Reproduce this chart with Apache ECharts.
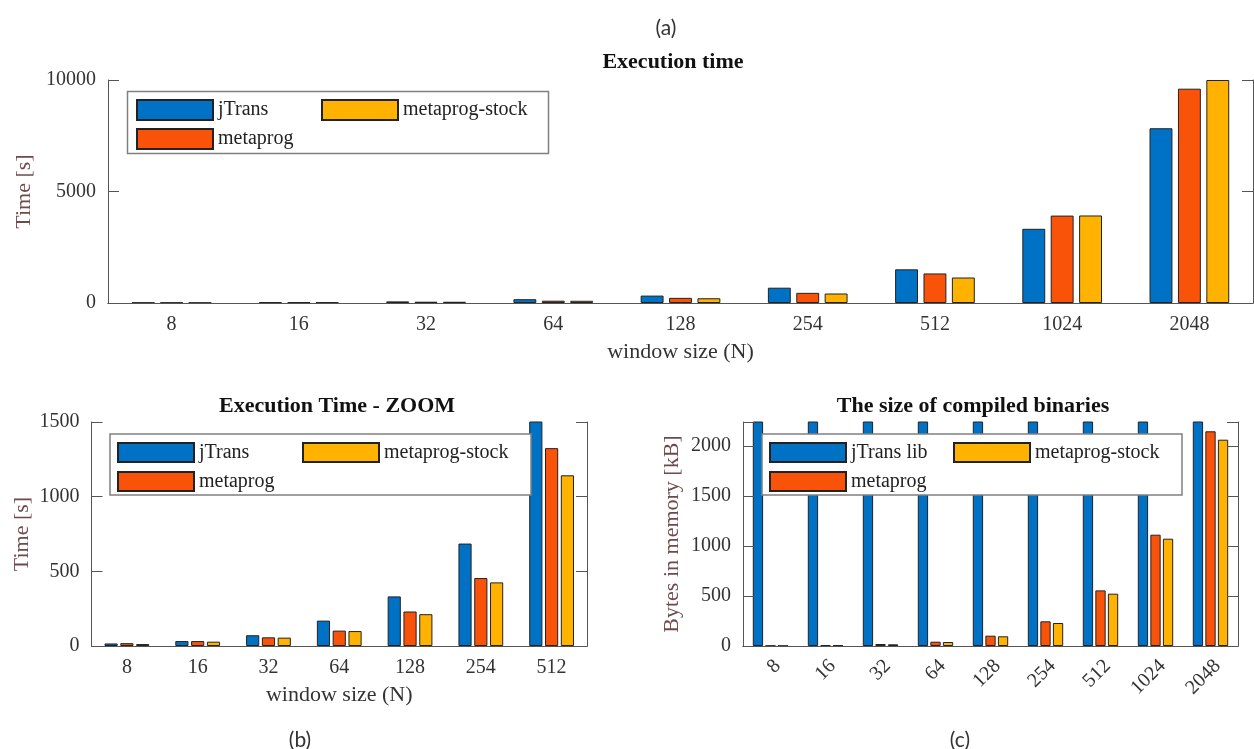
<!DOCTYPE html>
<html>
<head>
<meta charset="utf-8">
<script src="https://cdn.jsdelivr.net/npm/echarts@6/dist/echarts.min.js"></script>
<style>
  html, body { margin: 0; padding: 0; background: #fff; }
  #main { width: 1254px; height: 749px; }
</style>
</head>
<body>
<div id="main"></div>
<script>
// window sizes (x categories)
var windowSizes = ['8', '16', '32', '64', '128', '254', '512', '1024', '2048'];
var zoomCount = 7; // (b) shows only the first 7 sizes

// execution time [s]
var timeJTrans = [17, 33, 72, 170, 332, 686, 1510, 3327, 7837];
var timeMetaprog = [19, 33, 58, 103, 231, 455, 1325, 3920, 9610];
var timeStock = [13, 29, 56, 100, 213, 426, 1143, 3925, 10000];

// size of compiled binaries [kB]
var sizeJTransLib = [2500, 2500, 2500, 2500, 2500, 2500, 2500, 2500, 2500];
var sizeMetaprog = [3, 8, 20, 43, 103, 247, 556, 1113, 2147];
var sizeStock = [2, 7, 17, 40, 97, 230, 523, 1073, 2063];

var myChart = echarts.init(document.getElementById('main'));

var serif = 'Liberation Serif';
var axisColor = '#555';
var labelColor = '#333';
var yNameColor = '#6e4b4b';
var colors = ['#0072c6', '#f9530a', '#ffb300'];

function bottomAxis(g, cats, name, extra) {
    var ax = {
        type: 'category', gridIndex: g, data: cats, position: 'bottom', z: 5,
        axisLine: { lineStyle: { color: axisColor } },
        axisTick: { inside: true, alignWithLabel: true, length: 10, lineStyle: { color: axisColor } },
        axisLabel: { interval: 0, margin: 12, fontFamily: serif, fontSize: 20, color: labelColor },
        name: name, nameLocation: 'middle', nameGap: 38,
        nameTextStyle: { fontFamily: serif, fontSize: 22, color: '#333' }
    };
    if (extra) ax.axisLabel = Object.assign(ax.axisLabel, extra);
    return ax;
}
function topAxis(g, cats) {
    return {
        type: 'category', gridIndex: g, data: cats, position: 'top', z: 5,
        axisLine: { lineStyle: { color: axisColor } },
        axisTick: { inside: true, alignWithLabel: true, length: 10, lineStyle: { color: axisColor } },
        axisLabel: { show: false }
    };
}
function leftAxis(g, max, interval, name, gap) {
    return {
        type: 'value', gridIndex: g, min: 0, max: max, interval: interval, position: 'left', z: 5,
        axisLine: { show: true, lineStyle: { color: axisColor } },
        axisTick: { show: true, inside: true, length: 11, lineStyle: { color: axisColor } },
        splitLine: { show: false },
        axisLabel: {
            margin: 12, fontFamily: serif, fontSize: 20, color: labelColor,
            formatter: function (v) { return v % interval === 0 ? String(v) : ''; }
        },
        name: name, nameLocation: 'middle', nameGap: gap,
        nameTextStyle: { fontFamily: serif, fontSize: 22, color: yNameColor }
    };
}
function rightAxis(g, max, interval) {
    return {
        type: 'value', gridIndex: g, min: 0, max: max, interval: interval, position: 'right', z: 5,
        axisLine: { show: true, lineStyle: { color: axisColor } },
        axisTick: { show: true, inside: true, length: 11, lineStyle: { color: axisColor } },
        splitLine: { show: false },
        axisLabel: { show: false }
    };
}
function bars(name, data, axis, color, width, gap) {
    return {
        name: name, type: 'bar', xAxisIndex: axis, yAxisIndex: axis, data: data,
        barWidth: width, barGap: gap, clip: true,
        itemStyle: { color: color, borderColor: '#222', borderWidth: 1 }
    };
}
function legend(names, left, top, h, gap) {
    return {
        data: names, orient: 'vertical', left: left, top: top, padding: 0,
        itemWidth: 76, itemHeight: h, itemGap: gap, icon: 'rect', z: 10,
        textStyle: { fontFamily: serif, fontSize: 20, color: '#222' }
    };
}
function box(x, y, w, h) {
    return {
        type: 'rect', z: 6, shape: { x: x, y: y, width: w, height: h },
        style: { fill: '#fff', stroke: '#808080', lineWidth: 1.5 }
    };
}
function caption(text, x, y) {
    return {
        type: 'text', x: x, y: y, z: 10,
        style: { text: text, fontFamily: 'Lato', fontSize: 21, fill: '#333', align: 'center', verticalAlign: 'middle' }
    };
}
function titleOf(text, left, top) {
    return {
        text: text, left: left, top: top, textAlign: 'center', padding: 0,
        textStyle: { fontFamily: serif, fontWeight: 'bold', fontSize: 22, color: '#111' }
    };
}

var zoomCats = windowSizes.slice(0, zoomCount);

var option = {
    animation: false,
    backgroundColor: '#fff',
    title: [
        titleOf('Execution time', 673, 51),
        titleOf('Execution Time - ZOOM', 337, 395),
        titleOf('The size of compiled binaries', 973, 395)
    ],
    grid: [
        { left: 108, right: 1, top: 80, bottom: 446 },
        { left: 91.5, right: 667, top: 422, bottom: 103 },
        { left: 743, right: 16, top: 422, bottom: 103 }
    ],
    xAxis: [
        bottomAxis(0, windowSizes, 'window size (N)'),
        topAxis(0, windowSizes),
        bottomAxis(1, zoomCats, 'window size (N)'),
        topAxis(1, zoomCats),
        bottomAxis(2, windowSizes, '', { rotate: 45, margin: 10, align: 'right', verticalAlign: 'top' }),
        topAxis(2, windowSizes)
    ],
    yAxis: [
        leftAxis(0, 10000, 5000, 'Time [s]', 68),
        rightAxis(0, 10000, 5000),
        leftAxis(1, 1500, 500, 'Time [s]', 58),
        rightAxis(1, 1500, 500),
        leftAxis(2, 2240, 500, 'Bytes in memory [kB]', 60),
        rightAxis(2, 2240, 500)
    ],
    legend: [
        legend(['jTrans', 'metaprog'], 136, 99, 20, 7),
        legend(['metaprog-stock'], 321, 99, 20, 7),
        legend(['jTrans', 'metaprog'], 117, 442, 19, 8),
        legend(['metaprog-stock'], 302, 442, 19, 8),
        legend(['jTrans lib', 'metaprog'], 769, 442, 19, 8),
        legend(['metaprog-stock'], 953, 442, 19, 8)
    ],
    graphic: [
        box(127.5, 91.5, 421, 62),
        box(110, 434, 421, 61),
        box(762, 434, 420, 61),
        caption('(a)', 666, 28),
        caption('(b)', 300, 740),
        caption('(c)', 960, 740)
    ],
    series: [
        bars('jTrans', timeJTrans, 0, colors[0], '18%', '24%'),
        bars('metaprog', timeMetaprog, 0, colors[1], '18%', '24%'),
        bars('metaprog-stock', timeStock, 0, colors[2], '18%', '24%'),
        bars('jTrans', timeJTrans.slice(0, zoomCount), 2, colors[0], '18.6%', '20%'),
        bars('metaprog', timeMetaprog.slice(0, zoomCount), 2, colors[1], '18.6%', '20%'),
        bars('metaprog-stock', timeStock.slice(0, zoomCount), 2, colors[2], '18.6%', '20%'),
        bars('jTrans lib', sizeJTransLib, 4, colors[0], '18.7%', '22%'),
        bars('metaprog', sizeMetaprog, 4, colors[1], '18.7%', '22%'),
        bars('metaprog-stock', sizeStock, 4, colors[2], '18.7%', '22%')
    ]
};
myChart.setOption(option);
</script>
</body>
</html>
